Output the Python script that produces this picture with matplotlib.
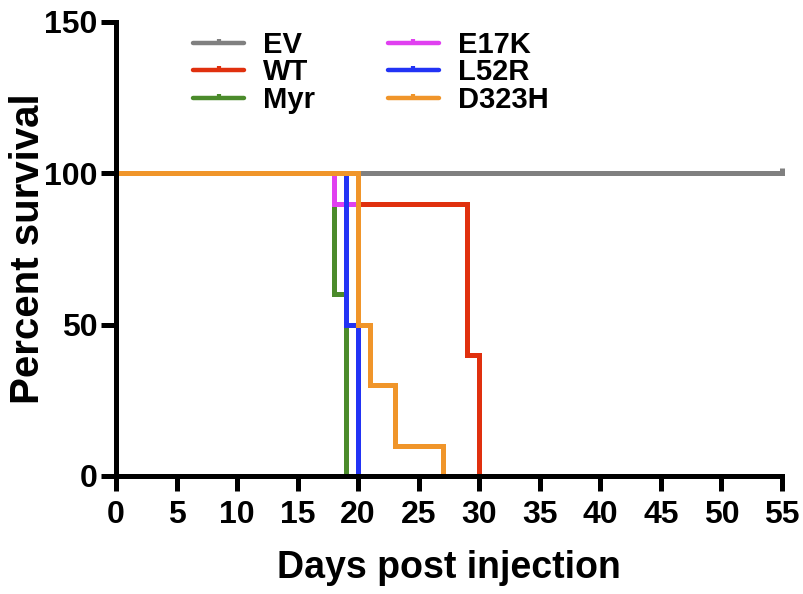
import matplotlib
matplotlib.use("Agg")
import matplotlib.pyplot as plt
from matplotlib.path import Path

plt.rcParams["font.family"] = ["Liberation Sans", "DejaVu Sans"]
plt.rcParams["font.weight"] = "bold"

# Kaplan-Meier steps (day, percent survival)
groups = ["EV", "WT", "Myr", "E17K", "L52R", "D323H"]
colors = ["#808080", "#e0300e", "#4b8b2b", "#e040f0", "#2233f5", "#f0952a"]
days = [
    [0, 55],
    [0, 18, 29, 30],
    [0, 18, 19],
    [0, 18, 20],
    [0, 19, 20],
    [0, 20, 21, 23, 27],
]
survival = [
    [100, 100],
    [100, 90, 40, 0],
    [100, 60, 0],
    [100, 90, 0],
    [100, 50, 0],
    [100, 50, 30, 10, 0],
]
# censored points
censor_day = [55]
censor_surv = [100]

xticks = list(range(0, 56, 5))
yticks = [0, 50, 100, 150]

# censor tick marker: a short vertical stroke going up
tick_marker = Path([[0, 0], [0, 1]], [Path.MOVETO, Path.LINETO])

fig = plt.figure(figsize=(8.04, 5.94), dpi=100)
ax = fig.add_axes([0.1443, 0.1987, 0.9726 - 0.1443, 0.963 - 0.1987])

handles = []
for g, c, t, s in zip(groups, colors, days, survival):
    ax.step(t, s, where="post", color=c, lw=3.6, clip_on=False,
            solid_joinstyle="miter")
    h, = ax.plot([], [], color=c, lw=3.2, marker=tick_marker, markersize=6,
                 markeredgewidth=3.0, solid_capstyle="round")
    handles.append(h)

ax.plot(censor_day, censor_surv, linestyle="none", marker=tick_marker,
        markersize=7, markeredgewidth=3.6, color=colors[0], clip_on=False)

ax.set_xlim(0, 55)
ax.set_ylim(0, 150)
ax.set_xticks(xticks)
ax.set_yticks(yticks)
ax.spines["top"].set_visible(False)
ax.spines["right"].set_visible(False)
for sp in ["left", "bottom"]:
    ax.spines[sp].set_linewidth(3.6)
ax.tick_params(width=3.6, length=11, labelsize=23, direction="out")
ax.tick_params(axis="x", pad=6.5)
ax.tick_params(axis="y", pad=2.5)
for lab in ax.get_xticklabels() + ax.get_yticklabels():
    lab.set_fontweight("bold")

ax.set_xlabel("Days post injection", fontsize=27, fontweight="bold")
ax.set_ylabel("Percent survival", fontsize=29, fontweight="bold")
ax.xaxis.set_label_coords(0.5, -0.164)
ax.yaxis.set_label_coords(-0.104, 0.5)

leg = fig.legend(handles, groups, ncol=2, frameon=False,
                 prop={"weight": "bold", "size": 21},
                 loc="upper left", bbox_to_anchor=(193 / 804, 1 - 31 / 594),
                 bbox_transform=fig.transFigure,
                 borderpad=0, borderaxespad=0,
                 handlelength=1.75, handletextpad=0.65, columnspacing=2.5,
                 labelspacing=-0.02, numpoints=1)

fig.savefig("out.png", dpi=100)
